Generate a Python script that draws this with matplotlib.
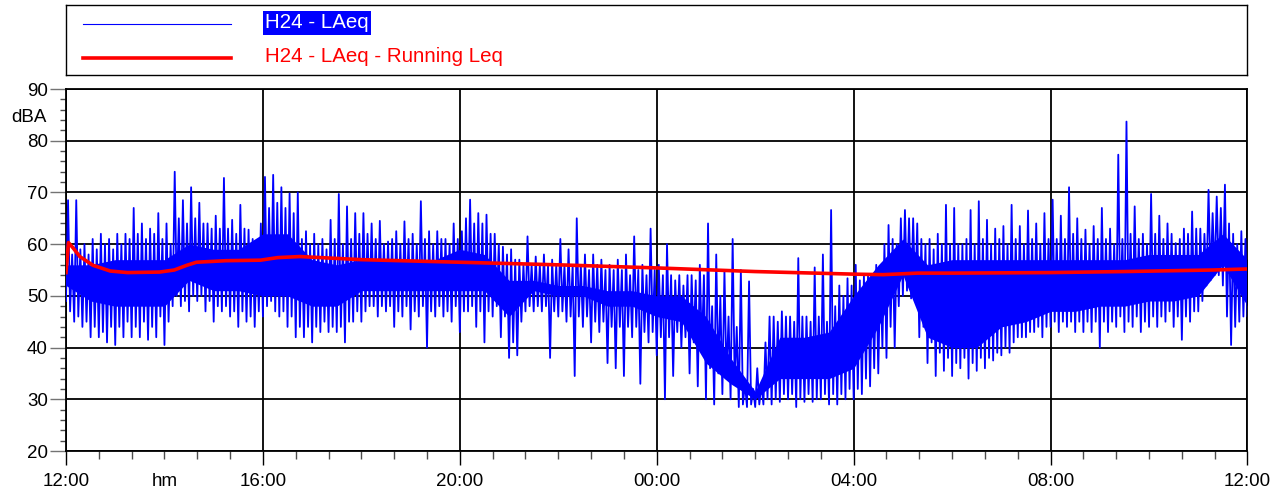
import matplotlib
matplotlib.use("Agg")
import matplotlib.pyplot as plt
from matplotlib.ticker import MultipleLocator
from matplotlib.transforms import blended_transform_factory
import numpy as np

plt.rcParams['font.family'] = ['Liberation Sans', 'DejaVu Sans']
plt.rcParams['font.size'] = 13.5
# keep every stroke of the noisy trace
plt.rcParams['path.simplify'] = False

# LAeq trace: a low and a high reading every 5 min,
# one row per hour starting at 12:00
lo = [49, 47, 45, 46, 44, 45, 42, 44, 42, 43, 41, 44,
      40.5, 44, 42, 45, 42, 44, 42, 45, 41.5, 44, 42, 46,
      40.5, 45, 48, 50, 48, 49, 47, 50, 49, 50, 47, 49,
      45, 48, 47, 48, 46, 47, 44, 47, 45, 46, 44, 47,
      46, 48, 49, 47, 46, 47, 44, 46, 42, 44, 42, 44,
      41, 44, 43, 45, 43, 44, 43, 44, 41, 45, 45, 47,
      45, 47, 48, 48, 46, 48, 47, 48, 44, 47, 46, 48,
      43.5, 47, 46, 48, 40, 47, 46, 48, 46, 47, 45, 48,
      43, 47, 47, 48, 44, 47, 41, 47, 46, 48, 42, 46,
      38, 41, 38.5, 45, 47, 48, 47, 48, 47, 48, 38, 47,
      46, 47, 45, 46, 34.5, 46, 44, 46, 41, 45, 43, 45,
      37, 44, 36, 44, 34.5, 44, 42, 44, 33, 43, 41, 43,
      38.5, 42, 30, 42, 34.5, 43, 40, 42, 35, 41, 32.5, 40,
      30, 36, 29, 35, 31, 34, 30, 33, 28.5, 29, 28.5, 29,
      28.5, 29, 29, 30, 29, 30, 29.5, 31, 30, 31, 28.5, 30,
      29.5, 31, 29.5, 30, 30, 31, 29, 31, 29, 31, 30, 32,
      30, 32, 31, 34, 32.5, 36, 35, 40, 38, 44, 40, 48,
      50, 51, 49.5, 50, 42, 44, 37, 41, 34.5, 39, 35.5, 38,
      34.5, 37, 36, 38, 34, 37, 35.5, 38, 36, 38, 37.5, 39,
      38.5, 40, 39, 41, 42, 42, 42, 43, 43, 44, 42, 44,
      44, 45, 43, 45, 44, 45, 43, 45, 43, 45, 43, 45,
      40, 45, 43, 45, 44, 46, 43, 45, 44, 46, 43, 45,
      44, 46, 44, 46, 45, 47, 44, 46, 41.5, 46, 45, 47,
      47, 49, 52, 53, 54, 54, 52, 46, 40.5, 44, 45, 46,
      46]
hi = [68.5, 58, 68.5, 59, 60, 58, 61, 59, 62, 60, 61, 59,
      62, 60, 62, 61, 67, 62, 64, 61, 63, 62, 66, 61,
      64, 60, 74, 65, 68.5, 64, 71, 65, 68, 64, 64, 63,
      65.5, 63, 72.8, 63, 64.7, 62, 67.6, 63, 62.8, 61, 60.5, 64,
      73, 67, 73.4, 68, 71, 67, 69.8, 66, 70, 61, 62.5, 60,
      62, 60, 61, 59, 64.7, 61, 69.7, 60, 67.3, 61, 66, 62,
      66, 62, 64, 61, 64.5, 60, 60.5, 61, 62.5, 60, 64.4, 61,
      62, 60, 68.3, 61, 62.5, 60, 62.5, 61, 61, 60, 64, 61,
      62.5, 65, 68.6, 64, 66, 64, 65.7, 62, 62, 60, 59.5, 58,
      59, 57, 57, 56, 61.5, 56, 57.6, 56, 58, 56, 57, 56,
      61, 56, 59, 56, 65, 56, 58, 55, 58, 56, 57, 55,
      56, 55, 57, 55, 58, 54, 61.5, 55, 56, 54, 63, 55,
      56, 54, 60, 54, 53, 54, 52, 54, 54, 53, 56, 54,
      64, 48, 58, 50, 55, 46, 61, 44, 55, 33, 52.8, 32,
      36, 33, 41, 46, 46, 45, 47, 46, 46, 45, 57.3, 46,
      46, 45, 55.5, 46, 58, 45, 66.6, 48, 52, 50, 53.4, 52,
      56, 53, 54, 54, 54, 56, 55.5, 60, 63.7, 61, 60, 65,
      66.6, 65, 65, 64, 61, 60, 61, 59, 62, 60, 67.6, 60,
      67, 60, 60, 61, 66.6, 60, 68.3, 61, 64.7, 60, 63, 61,
      63.5, 60, 67.6, 61, 63.5, 60, 66.5, 61, 64, 60, 66, 61,
      68.6, 61, 65.5, 61, 71, 62, 65, 61, 62.8, 60, 63.5, 61,
      67, 61, 63, 60, 77.3, 61, 83.7, 62, 67.3, 61, 62, 60,
      69.7, 62, 65.5, 61, 64, 62, 60.2, 61, 63, 62, 66.3, 63,
      63, 62, 70.5, 66, 69.2, 67, 71.5, 64, 62, 60, 62.5, 61,
      64]

# solid middle band of the trace, every 30 min
core_lo = [52, 49, 48, 48, 48, 53, 51, 51, 50, 50, 48, 48, 51, 51, 51, 51, 51,
           51, 46, 51, 50, 50, 48, 48, 46, 45, 37, 33, 30, 34, 34, 34, 36, 44,
           54, 42, 40, 40, 44, 45, 47, 47, 48, 48, 49, 49, 50, 56, 48]
core_hi = [56, 56, 57, 57, 57, 60, 59, 59, 62, 62, 57, 56, 57, 57, 57, 57, 59,
           58, 53, 53, 52, 52, 51, 51, 50, 50, 46, 38, 31.5, 42, 42, 43, 50, 56,
           61, 56, 57, 57, 57, 57, 57, 57, 57, 57, 58, 58, 58, 62, 57]

# running Leq
t_run = [0, 0.05, 0.15, 0.28, 0.55, 0.9, 1.25, 1.9, 2.2, 2.45, 2.65, 3.25, 3.95,
         4.3, 4.75, 6, 8, 10, 12, 14, 16, 16.6, 17.3, 18, 20, 21.5, 23.3, 24]
leq_run = [54.5, 60.3, 59.2, 57.6, 55.9, 54.8, 54.5, 54.6, 55.0, 55.9, 56.5, 56.8,
           56.9, 57.4, 57.6, 57.0, 56.5, 56.0, 55.4, 54.7, 54.2, 54.1, 54.4, 54.4,
           54.5, 54.7, 55.0, 55.2]

hour_labels = ['12:00', '16:00', '20:00', '00:00', '04:00', '08:00', '12:00']

t_lo = np.arange(len(lo)) / 12
t_hi = t_lo + 1 / 24
t_trace = np.ravel(np.column_stack([t_lo, t_hi]))
v_trace = np.ravel(np.column_stack([lo, hi]))
t_core = np.arange(len(core_lo)) * 0.5

W, H = 1284, 496
fig = plt.figure(figsize=(W / 100, H / 100), dpi=100)
ax = fig.add_axes([66 / W, (H - 451) / H, (1247.5 - 66) / W, (451 - 89) / H])

ax.fill_between(t_core, core_lo, core_hi, color='#0000ff', lw=0, zorder=2)
ax.plot(t_trace, v_trace, color='#0000ff', lw=1.3, zorder=3)
ax.plot(t_run, leq_run, color='#ff0000', lw=2.6, zorder=4)

ax.set_xlim(0, 24)
ax.set_ylim(20, 90)
ax.set_xticks(np.arange(0, 25, 4))
ax.set_xticklabels(hour_labels)
ax.set_yticks(np.arange(20, 91, 10))
ax.xaxis.set_minor_locator(MultipleLocator(2 / 3))
ax.yaxis.set_minor_locator(MultipleLocator(2))
ax.grid(True, which='major', color='black', lw=1.3, zorder=1)
ax.set_axisbelow(True)
for s in ax.spines.values():
    s.set_linewidth(1.3)
ax.tick_params(axis='y', which='major', length=11.5, width=1, color='0.45', pad=1.5)
ax.tick_params(axis='y', which='minor', length=4.5, width=1, color='0.3')
ax.tick_params(axis='x', which='major', length=10, width=1, color='black', pad=6)
ax.tick_params(axis='x', which='minor', length=5.5, width=1, color='0.3')

fig.text(47 / W, 1 - 118 / H, 'dBA', ha='right', va='center')
trans = blended_transform_factory(ax.transData, ax.transAxes)
ax.text(2, -(473 - 451) / (451 - 89), 'hm', transform=trans, ha='center', va='top')

# legend box
lg = fig.add_axes([66 / W, (H - 75) / H, (1247.5 - 66) / W, 70 / H])
lg.set_xlim(66, 1247.5)
lg.set_ylim(75, 5)
lg.set_xticks([])
lg.set_yticks([])
for s in lg.spines.values():
    s.set_linewidth(1)
lg.plot([83, 231], [24, 24], color='#0000ff', lw=0.8)
lg.plot([83, 231], [58, 58], color='#ff0000', lw=2.6)
lg.text(265, 23, 'H24 - LAeq', color='white', fontsize=14.8, va='center',
        bbox=dict(facecolor='#0000ff', edgecolor='none', pad=1.5))
lg.text(265, 57, 'H24 - LAeq - Running Leq', color='#ff0000', fontsize=14.8, va='center')

fig.savefig('out.png', dpi=100)
